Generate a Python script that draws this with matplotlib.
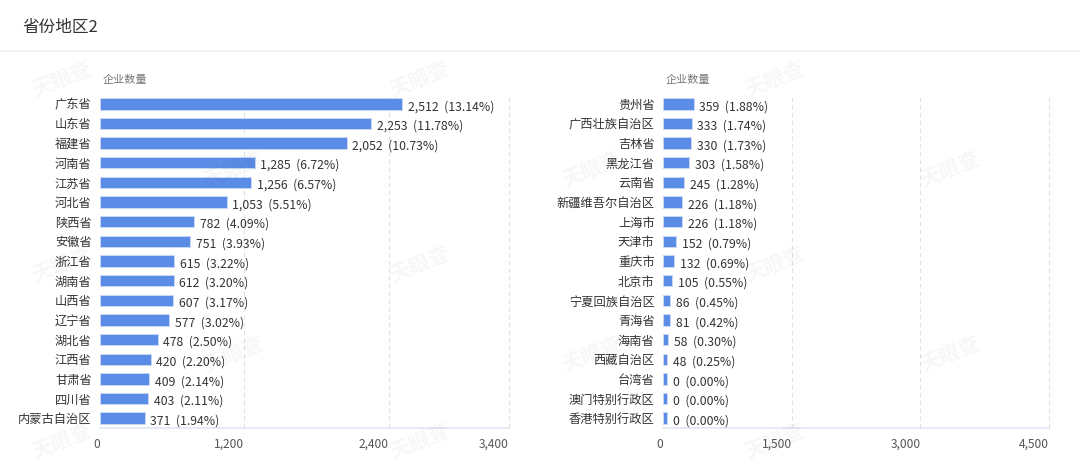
import numpy as np
import matplotlib
matplotlib.use("Agg")
import matplotlib.pyplot as plt

plt.rcParams['font.family'] = ['Noto Sans CJK SC', 'DejaVu Sans']

# datos
prov_izq = ['广东省', '山东省', '福建省', '河南省', '江苏省', '河北省', '陕西省', '安徽省',
            '浙江省', '湖南省', '山西省', '辽宁省', '湖北省', '江西省', '甘肃省', '四川省',
            '内蒙古自治区']
val_izq = [2512, 2253, 2052, 1285, 1256, 1053, 782, 751, 615, 612, 607, 577, 478, 420, 409, 403, 371]
pct_izq = [13.14, 11.78, 10.73, 6.72, 6.57, 5.51, 4.09, 3.93, 3.22, 3.20, 3.17, 3.02, 2.50, 2.20,
           2.14, 2.11, 1.94]

prov_der = ['贵州省', '广西壮族自治区', '吉林省', '黑龙江省', '云南省', '新疆维吾尔自治区', '上海市',
            '天津市', '重庆市', '北京市', '宁夏回族自治区', '青海省', '海南省', '西藏自治区',
            '台湾省', '澳门特别行政区', '香港特别行政区']
val_der = [359, 333, 330, 303, 245, 226, 226, 152, 132, 105, 86, 81, 58, 48, 0, 0, 0]
pct_der = [1.88, 1.74, 1.73, 1.58, 1.28, 1.18, 1.18, 0.79, 0.69, 0.55, 0.45, 0.42, 0.30, 0.25,
           0.00, 0.00, 0.00]

ticks_izq = [0, 1200, 2400, 3400]
ticks_der = [0, 1500, 3000, 4500]

AZUL = '#5b8ce6'
W, H = 1080, 467
fig = plt.figure(figsize=(W / 100, H / 100), dpi=100)
fig.patch.set_facecolor('white')

# título y línea separadora
fig.text(22 / W, 1 - 27 / H, '省份地区2', fontsize=12, color='#333333', va='center', ha='left')
fig.add_artist(plt.Line2D([0, 1], [1 - 51 / H, 1 - 51 / H], color='#eef0f4', lw=1.2))

# marcas de agua
for fila, yy in enumerate([80, 170, 265, 355, 442]):
    xs = [62, 420, 775] if fila % 2 == 0 else [234, 592, 950]
    for xx in xs:
        fig.text(xx / W, 1 - yy / H, '天眼查', fontsize=15, fontweight='bold', color='#000000',
                 alpha=0.035, rotation=22, ha='center', va='center', zorder=0)


def panel(x0, x1, provs, vals, pcts, ticks):
    ax = fig.add_axes([x0 / W, 1 - 428 / H, (x1 - x0) / W, (428 - 94) / H])
    ax.set_facecolor('none')
    n = len(provs)
    y = np.arange(n)
    xmax = ticks[-1]
    # ancho mínimo visible (~4px) para los valores en cero
    minimo = xmax * 4.0 / (x1 - x0)
    ancho = np.maximum(np.array(vals, dtype=float), minimo)
    ax.barh(y, ancho, height=0.58, color=AZUL, edgecolor='#c8d7f6', linewidth=0.7, zorder=3)
    for yi, w, v, p in zip(y, ancho, vals, pcts):
        ax.annotate(f'{v:,}  ({p:.2f}%)', xy=(w, yi), xytext=(4, -2), textcoords='offset points',
                    ha='left', va='center', fontsize=8.8, color='#333333', zorder=4)
    ax.set_xlim(0, xmax)
    ax.set_ylim(n - 0.5, -0.5)
    ax.set_xticks(ticks)
    ax.set_xticklabels([f'{t:,}' for t in ticks], ha='right')
    ax.set_yticks(y)
    ax.set_yticklabels(provs)
    ax.tick_params(axis='y', length=0, pad=6, labelsize=8.8, labelcolor='#333333')
    ax.tick_params(axis='x', length=0, pad=7, labelsize=8.6, labelcolor='#555555')
    for t in ticks[1:]:
        ax.axvline(t, color='#e0e0e0', lw=0.8, ls=(0, (4, 3)), zorder=1, clip_on=False)
    for s in ['top', 'right', 'left']:
        ax.spines[s].set_visible(False)
    ax.spines['bottom'].set_color('#e0e6f1')
    ax.spines['bottom'].set_linewidth(1.2)
    fig.text((x0 + 3) / W, 1 - 80 / H, '企业数量', fontsize=8, color='#777777', ha='left', va='center')
    return ax


panel(100, 509, prov_izq, val_izq, pct_izq, ticks_izq)
panel(663, 1049, prov_der, val_der, pct_der, ticks_der)

fig.savefig('out.png', dpi=100, facecolor='white')
